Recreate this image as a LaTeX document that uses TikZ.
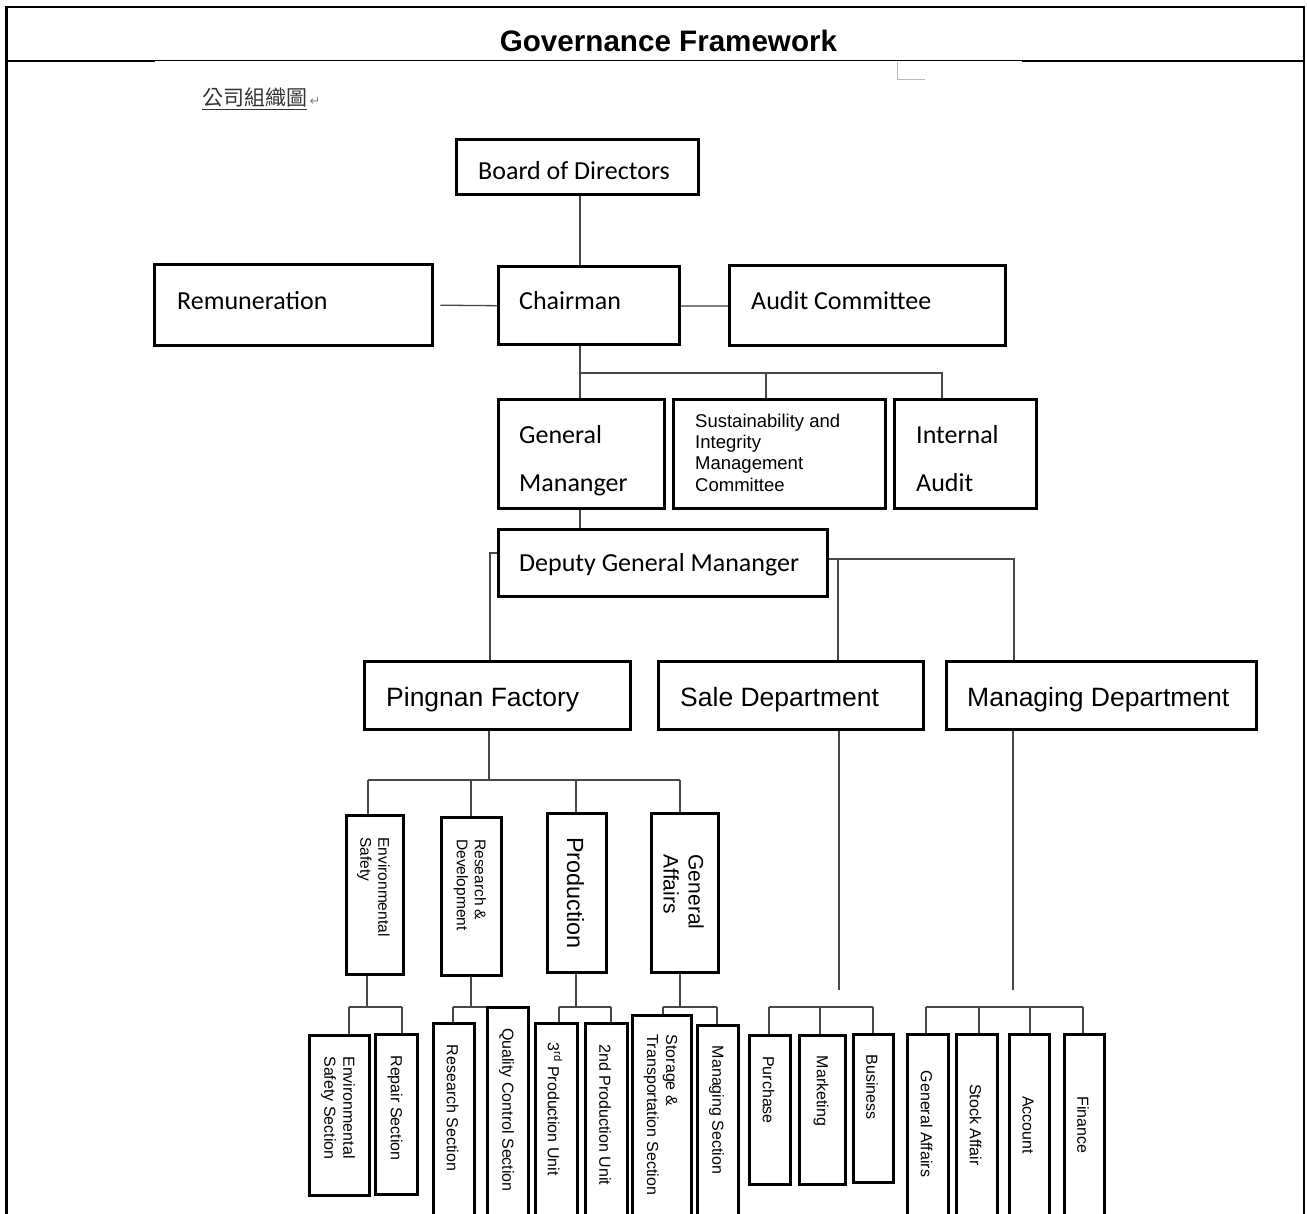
\documentclass[tikz,border=0pt]{standalone}
\usepackage{fontspec}
\setmainfont{Liberation Sans}
\newfontfamily\carlito{Carlito}
\newfontfamily\cjkfont{Noto Sans CJK TC}
\newfontfamily\symfont{DejaVu Sans}
\usetikzlibrary{backgrounds}

\tikzset{
  unit/.style={draw, line width=3.4pt, fill=white, inner sep=0pt, anchor=north west},
  conn/.style={draw=black!72, line width=1.3pt},
  cal/.style={inner sep=0pt, anchor=base west, align=left, font=\carlito\fontsize{26}{48}\selectfont},
  ari/.style={inner sep=0pt, anchor=base west, font=\fontsize{26.5}{32}\selectfont},
  vtxt/.style={inner sep=0pt, rotate=-90, align=left, font=\fontsize{16}{19}\selectfont},
  vmid/.style={inner sep=0pt, rotate=-90, align=left},
}
% a box given by its left, top, right and bottom edges
\newcommand\ubox[5]{\node[unit, minimum width={#4pt-#2pt}, minimum height={#5pt-#3pt}] (#1) at (#2,#3) {};}

\begin{document}
\begin{tikzpicture}[x=1pt,y=-1pt]
\useasboundingbox (0,0) rectangle (1307,1214);
\clip (0,0) rectangle (1307,1214);

% outer table frame and title row
\draw[line width=2.5pt] (6.5,1230) -- (6.5,7) -- (1304,7) -- (1304,1230);
\draw[line width=1pt] (5,61) -- (1305,61);
\draw[line width=2pt] (5,61) -- (155,61);
\draw[line width=2pt] (1022,61) -- (1305,61);
\node[inner sep=0pt, anchor=base, font=\bfseries\fontsize{29.6}{34}\selectfont] (title) at (668.5,52) {Governance Framework};
\draw[gray!55, line width=1pt] (897,62) -- (897,80) -- (925,80);

% caption
\node[inner sep=0pt, anchor=base west, text=black!80, font=\cjkfont\fontsize{21}{24}\selectfont] (cjk) at (202,106) {\underline{公司組織圖}};
\node[inner sep=0pt, anchor=base west, text=gray, font=\symfont\fontsize{13}{16}\selectfont] (ret) at ([xshift=2pt]cjk.base east) {↵};

% upper levels
\ubox{board}{455}{138}{697}{193}
\ubox{chair}{497}{265}{678}{343}
\ubox{rem}{153}{263}{431}{344}
\ubox{audit}{728}{264}{1004}{344}
\ubox{gm}{497}{398}{663}{507}
\ubox{simc}{672}{398}{884}{507}
\ubox{ia}{893}{398}{1035}{507}
\ubox{dgm}{497}{528}{826}{595}
\ubox{pf}{363}{660}{629}{728}
\ubox{sd}{657}{660}{922}{728}
\ubox{md}{945}{660}{1255}{728}

% the base anchor of a multi-line node sits on its last line
\node[cal] (board-t) at (478,180) {Board of Directors};
\node[cal] (chair-t) at (519,309.5) {Chairman};
\node[cal] (rem-t) at (177,309.5) {Remuneration};
\node[cal] (audit-t) at (751,309.5) {Audit Committee};
\node[cal] (gm-t) at (519,491.5) {General\\Mananger};
\node[cal] (ia-t) at (916,491.5) {Internal\\Audit};
\node[inner sep=0pt, anchor=base west, align=left, font=\fontsize{18.5}{21.5}\selectfont] (simc-t) at (695,491.5) {Sustainability and\\Integrity\\Management\\Committee};
\node[cal] (dgm-t) at (519,571.5) {Deputy General Mananger};
\node[ari] (pf-t) at (386,706) {Pingnan Factory};
\node[ari] (sd-t) at (680,706) {Sale Department};
\node[ari] (md-t) at (967,706) {Managing Department};

% factory divisions
\ubox{es}{345}{814}{402}{973}
\ubox{rd}{440}{816}{500}{974}
\ubox{pr}{546}{812}{605}{971}
\ubox{ga}{650}{812}{717}{971}
\node[vmid, font=\fontsize{15.5}{18}\selectfont] (es-t) at (373.5,887) {Environmental\\Safety};
\node[vmid, font=\fontsize{15.5}{18}\selectfont] (rd-t) at (470,885) {Research \&\\Development};
\node[vmid, font=\fontsize{23.4}{27}\selectfont] (pr-t) at (575.5,893) {Production};
\node[vmid, font=\fontsize{21}{25}\selectfont] (ga-t) at (683.5,892) {General\\Affairs};

% sections
\ubox{ess}{308}{1034}{368}{1194}
\ubox{rep}{374}{1033}{416}{1193}
\ubox{res}{432}{1022}{473}{1240}
\ubox{qc}{486}{1006}{527}{1240}
\ubox{p3}{534}{1022}{576}{1240}
\ubox{p2}{584}{1022}{626}{1240}
\ubox{st}{631}{1014}{690}{1240}
\ubox{ms}{696}{1024}{737}{1240}
\ubox{pu}{748}{1034}{789}{1183}
\ubox{mk}{798}{1034}{844}{1183}
\ubox{bu}{852}{1033}{892}{1181}
\ubox{gaf}{906}{1033}{947}{1240}
\ubox{sa}{955}{1033}{996}{1240}
\ubox{ac}{1008}{1033}{1048}{1240}
\ubox{fi}{1063}{1033}{1103}{1240}

\node[vtxt] (ess-t) at (338,1108) {Environmental\\Safety Section};
\node[vtxt] (rep-t) at (395,1108) {Repair Section};
\node[vtxt] (res-t) at (452.5,1108) {Research Section};
\node[vtxt] (qc-t) at (506.5,1110) {Quality Control Section};
\node[vtxt] (p3-t) at (555,1109) {3\textsuperscript{rd} Production Unit};
\node[vtxt] (p2-t) at (605,1115) {2nd Production Unit};
\node[vtxt] (st-t) at (660.5,1115) {Storage \&\\Transportation Section};
\node[vtxt] (ms-t) at (716.5,1110) {Managing Section};
\node[vtxt] (pu-t) at (768.5,1090) {Purchase};
\node[vtxt] (mk-t) at (821,1091) {Marketing};
\node[vtxt] (bu-t) at (872,1087) {Business};
\node[vtxt] (gaf-t) at (926.5,1124) {General Affairs};
\node[vtxt] (sa-t) at (975.5,1125) {Stock Affair};
\node[vtxt] (ac-t) at (1028,1125) {Account};
\node[vtxt] (fi-t) at (1083,1125) {Finance};

% connectors
\begin{scope}[on background layer]
  \coordinate (bx) at (580,0);
  \draw[conn] (board.south -| bx) -- (chair.north -| bx);
  \draw[conn] ([xshift=6pt]rem.east) -- (chair.west);
  \draw[draw=black!50, line width=2.2pt] (chair.east) -- (audit.west);

  \coordinate (bus1) at (580,373);
  \coordinate (simcdrop) at (766,373);
  \coordinate (iadrop) at (942,373);
  \draw[conn] (chair.south -| bus1) -- (bus1) -- (iadrop) -- (iadrop |- ia.north);
  \draw[conn] (bus1) -- (bus1 |- gm.north);
  \draw[conn] (simcdrop) -- (simcdrop |- simc.north);
  \draw[conn] (gm.south -| bus1) -- (dgm.north -| bus1);

  \coordinate (dl) at (490,553);
  \draw[conn] (dgm.west |- dl) -- (dl) -- (dl |- pf.north);
  \coordinate (dr) at (1014,559);
  \coordinate (dsd) at (838,559);
  \draw[conn] (dgm.east |- dr) -- (dr) -- (dr |- md.north);
  \draw[conn] (dsd) -- (dsd |- sd.north);

  \coordinate (sdend) at (839,990);
  \coordinate (mdend) at (1013,990);
  \draw[conn] (sd.south -| sdend) -- (sdend);
  \draw[conn] (md.south -| mdend) -- (mdend);

  % factory bus
  \coordinate (pbus) at (489,780);
  \coordinate (b-es) at (368,780);
  \coordinate (b-rd) at (471,780);
  \coordinate (b-pr) at (576,780);
  \coordinate (b-ga) at (680,780);
  \draw[conn] (pf.south -| pbus) -- (pbus);
  \draw[conn] (b-es) -- (b-ga);
  \foreach \c/\n in {b-es/es, b-rd/rd, b-pr/pr, b-ga/ga}
    \draw[conn] (\c) -- (\c |- \n.north);

  % section buses
  \coordinate (es-b) at (367,1007);
  \coordinate (ess-b) at (349,1007);
  \coordinate (rep-b) at (402,1007);
  \draw[conn] (es.south -| es-b) -- (es-b);
  \draw[conn] (ess-b) -- (rep-b);

  \coordinate (rd-b) at (471,1007);
  \coordinate (res-b) at (453,1007);
  \draw[conn] (rd.south -| rd-b) -- (rd-b);
  \draw[conn] (res-b) -- (res-b -| qc.west);

  \coordinate (pr-b) at (576,1007);
  \coordinate (p3-b) at (559,1007);
  \coordinate (p2-b) at (611,1007);
  \draw[conn] (pr.south -| pr-b) -- (pr-b);
  \draw[conn] (p3-b) -- (p2-b);

  \coordinate (ga-b) at (680,1007);
  \coordinate (st-b) at (663,1007);
  \coordinate (ms-b) at (717,1007);
  \draw[conn] (ga.south -| ga-b) -- (ga-b);
  \draw[conn] (st-b) -- (ms-b);

  \coordinate (pu-b) at (769,1007);
  \coordinate (mk-b) at (820,1007);
  \coordinate (bu-b) at (873,1007);
  \draw[conn] (pu-b) -- (bu-b);

  \coordinate (gaf-b) at (926,1007);
  \coordinate (sa-b) at (979,1007);
  \coordinate (ac-b) at (1030,1007);
  \coordinate (fi-b) at (1083,1007);
  \draw[conn] (gaf-b) -- (fi-b);

  \foreach \c/\n in {ess-b/ess, rep-b/rep, res-b/res, p3-b/p3, p2-b/p2, st-b/st, ms-b/ms,
                     pu-b/pu, mk-b/mk, bu-b/bu, gaf-b/gaf, sa-b/sa, ac-b/ac, fi-b/fi}
    \draw[conn] (\c) -- (\c |- \n.north);
\end{scope}
\end{tikzpicture}
\end{document}
